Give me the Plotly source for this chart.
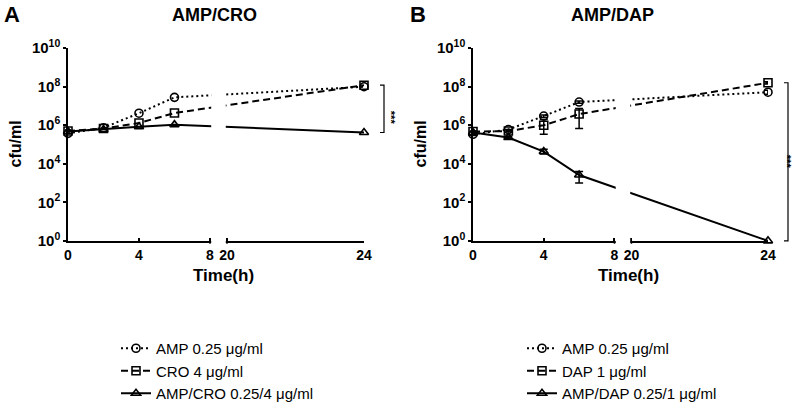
import math
import plotly.graph_objects as go

W, H = 800, 410

# ---------------- data ----------------
TIMES = [0, 2, 4, 6, 24]
X_TICKS = [0, 4, 8, 20, 24]
X_TICK_TEXT = ["0", "4", "8", "20", "24"]
Y_TICKS = [1, 1e2, 1e4, 1e6, 1e8, 1e10]
Y_TICK_TEXT = ["10<sup>0</sup>", "10<sup>2</sup>", "10<sup>4</sup>",
               "10<sup>6</sup>", "10<sup>8</sup>", "10<sup>10</sup>"]

A_TITLE = "AMP/CRO"
A_NAMES = ["AMP 0.25 \u03bcg/ml", "CRO 4 \u03bcg/ml", "AMP/CRO 0.25/4 \u03bcg/ml"]
A_AMP = [3.8e5, 7.4e5, 4.2e6, 2.8e7, 1.0e8]
A_CRO = [5.0e5, 6.8e5, 1.3e6, 4.3e6, 1.2e8]
A_COMBO = [4.7e5, 6.0e5, 8.3e5, 1.07e6, 4.2e5]

B_TITLE = "AMP/DAP"
B_NAMES = ["AMP 0.25 \u03bcg/ml", "DAP 1 \u03bcg/ml", "AMP/DAP 0.25/1 \u03bcg/ml"]
B_AMP = [3.4e5, 6.0e5, 3.0e6, 1.6e7, 5.2e7]
B_AMP_LO = [3.4e5, 6.0e5, 2.5e6, 1.4e7, 4.0e7]
B_AMP_HI = [3.4e5, 6.0e5, 3.4e6, 1.8e7, 6.5e7]
B_DAP = [4.7e5, 5.0e5, 1.0e6, 3.8e6, 1.6e8]
B_DAP_LO = [4.7e5, 4.4e5, 3.4e5, 6.8e5, 1.4e8]
B_DAP_HI = [4.7e5, 5.6e5, 2.0e6, 7.4e6, 1.8e8]
B_COMBO = [4.2e5, 2.3e5, 4.3e4, 2.6e3, 1.0]
B_COMBO_LO = [4.2e5, 2.0e5, 3.2e4, 1.0e3, 1.0]
B_COMBO_HI = [4.2e5, 2.6e5, 5.6e4, 4.0e3, 1.0]

SIG_TEXT = "***"

# ---------------- broken time axis ----------------
BREAK_LO, BREAK_HI = 8, 20
GAP = 0.96          # display units for the gap
SEG2_SCALE = 1.93   # display units per hour after the break


def disp(t):
    return t if t <= BREAK_LO else BREAK_LO + GAP + (t - BREAK_HI) * SEG2_SCALE


X_MAX = disp(24)

FONT = "Liberation Sans, Arial, sans-serif"
ydom = [1 - 250 / H, 1 - 50 / H]
xdomA = [68 / W, 364 / W]
xdomB = [473 / W, 768 / W]


def yfrac(v):
    return ydom[0] + math.log10(v) / 10 * (ydom[1] - ydom[0])


STYLES = [
    dict(symbol="circle-open", dash="2px,3px"),
    dict(symbol="square-open", dash="7px,4px"),
    dict(symbol="triangle-up-open", dash="solid"),
]

fig = go.Figure()


def add_series(vals, name, style, xa, ya, legend, lo=None, hi=None):
    err = None
    if lo is not None:
        err = dict(type="data", symmetric=False,
                   array=[h - v for h, v in zip(hi, vals)],
                   arrayminus=[v - l for v, l in zip(vals, lo)],
                   color="black", thickness=1.5, width=4)
    fig.add_trace(go.Scatter(
        x=[disp(t) for t in TIMES], y=vals, name=name,
        mode="lines+markers", xaxis=xa, yaxis=ya, legend=legend,
        cliponaxis=False,
        line=dict(color="black", width=2, dash=style["dash"]),
        marker=dict(symbol=style["symbol"], size=8, color="black",
                    line=dict(width=1.6, color="black")),
        error_y=err,
    ))


for vals, name, st in zip([A_AMP, A_CRO, A_COMBO], A_NAMES, STYLES):
    add_series(vals, name, st, "x", "y", "legend")
for vals, lo, hi, name, st in zip([B_AMP, B_DAP, B_COMBO],
                                  [B_AMP_LO, B_DAP_LO, B_COMBO_LO],
                                  [B_AMP_HI, B_DAP_HI, B_COMBO_HI], B_NAMES, STYLES):
    add_series(vals, name, st, "x2", "y2", "legend2", lo, hi)

xaxis_common = dict(
    range=[0, X_MAX], tickvals=[disp(t) for t in X_TICKS], ticktext=X_TICK_TEXT,
    showline=True, linecolor="black", linewidth=1.5, ticks="inside", ticklen=3,
    tickwidth=1.5, tickcolor="black", showgrid=False, zeroline=False,
    ticklabelstandoff=1,
    tickfont=dict(family=FONT, size=14, color="black", weight="bold"),
)
yaxis_common = dict(
    type="log", range=[0, 10], domain=ydom, tickvals=Y_TICKS, ticktext=Y_TICK_TEXT,
    showline=True, linecolor="black", linewidth=1.5, ticks="outside", ticklen=3,
    tickwidth=1.5, tickcolor="black", showgrid=False, zeroline=False,
    tickfont=dict(family=FONT, size=15, color="black", weight="bold"),
)

fig.update_layout(
    width=W, height=H, template="none",
    margin=dict(l=0, r=0, t=0, b=0),
    paper_bgcolor="white", plot_bgcolor="white",
    font=dict(family=FONT, color="black"),
    xaxis=dict(domain=xdomA, anchor="y", **xaxis_common),
    yaxis=dict(anchor="x", **yaxis_common),
    xaxis2=dict(domain=xdomB, anchor="y2", **xaxis_common),
    yaxis2=dict(anchor="x2", **yaxis_common),
    legend=dict(x=116 / W, y=1 - 345 / H, xanchor="left", yanchor="top",
                font=dict(family=FONT, size=15, color="black"),
                bgcolor="rgba(0,0,0,0)", itemwidth=30, tracegroupgap=0),
    legend2=dict(x=522 / W, y=1 - 345 / H, xanchor="left", yanchor="top",
                 font=dict(family=FONT, size=15, color="black"),
                 bgcolor="rgba(0,0,0,0)", itemwidth=30, tracegroupgap=0),
)

shapes = []
annotations = []
for xr, xdom, title, letter, letter_x, title_x, last_vals in [
    ("x", xdomA, A_TITLE, "A", 2, 214, [A_AMP[-1], A_CRO[-1], A_COMBO[-1]]),
    ("x2", xdomB, B_TITLE, "B", 408, 612, [B_AMP[-1], B_DAP[-1], B_COMBO[-1]]),
]:
    # gap in the broken axis
    shapes.append(dict(type="rect", xref=xr, yref="paper",
                       x0=disp(BREAK_LO) + 0.07, x1=disp(BREAK_HI) - 0.07,
                       y0=ydom[0] - 3 / H, y1=ydom[1] + 0.01,
                       fillcolor="white", line=dict(width=0), layer="above"))
    for t in (BREAK_LO, BREAK_HI):
        shapes.append(dict(type="line", xref=xr, yref="paper",
                           x0=disp(t), x1=disp(t), y0=ydom[0], y1=ydom[0] - 3 / H,
                           line=dict(color="black", width=1.5), layer="above"))
    # significance bracket
    bx = xdom[1] + 20 / W
    top, bot = yfrac(max(last_vals)), yfrac(min(last_vals))
    shapes.append(dict(type="path", xref="paper", yref="paper",
                       path=f"M {bx - 4 / W} {top} L {bx} {top} L {bx} {bot} L {bx - 4 / W} {bot}",
                       line=dict(color="black", width=1.2)))
    annotations.append(dict(xref="paper", yref="paper", x=bx + 7 / W, y=(top + bot) / 2,
                            text=f"<b>{SIG_TEXT}</b>", textangle=90, showarrow=False,
                            font=dict(family=FONT, size=11, color="black")))
    # titles
    annotations.append(dict(xref="paper", yref="paper", x=letter_x / W, y=1 - 15 / H,
                            xanchor="left", yanchor="middle", text=f"<b>{letter}</b>",
                            showarrow=False, font=dict(family=FONT, size=22, color="black")))
    annotations.append(dict(xref="paper", yref="paper", x=title_x / W, y=1 - 16 / H,
                            xanchor="center", yanchor="middle", text=f"<b>{title}</b>",
                            showarrow=False, font=dict(family=FONT, size=18, color="black")))
    # axis titles
    annotations.append(dict(xref="paper", yref="paper", x=(xdom[0] * W - 52) / W,
                            y=1 - 150 / H, xanchor="center", yanchor="middle",
                            text="<b>cfu/ml</b>", textangle=-90, showarrow=False,
                            font=dict(family=FONT, size=16, color="black")))
    annotations.append(dict(xref="paper", yref="paper", x=(xdom[0] * W + 155) / W,
                            y=1 - 286 / H, xanchor="center", yanchor="middle",
                            text="<b>Time(h)</b>", showarrow=False,
                            font=dict(family=FONT, size=17, color="black")))

fig.update_layout(shapes=shapes, annotations=annotations)
fig.write_html("out.html", config={"displayModeBar": False},
               post_script="document.body.style.margin='0';")
